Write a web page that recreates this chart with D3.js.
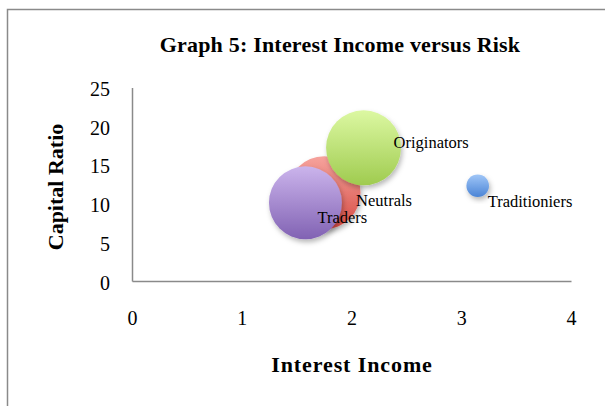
<!DOCTYPE html>
<html>
<head>
<meta charset="utf-8">
<script src="https://cdn.jsdelivr.net/npm/d3@7"></script>
<style>
  html, body { margin: 0; padding: 0; background: #fff; }
  svg { display: block; font-family: "Liberation Serif", "DejaVu Serif", serif; }
</style>
</head>
<body>
<svg id="chart" width="605" height="406"></svg>
<script>
// Bubble series: category names, interest income (x), capital ratio (y), bubble size
const groups   = ["Neutrals", "Originators", "Traders", "Traditioniers"];
const income   = [1.75, 2.11, 1.58, 3.15];
const capital  = [11.4, 17.2, 10.1, 12.3];
const sizes    = [10.4, 11.0, 10.4, 1.0];
const xTicks   = [0, 1, 2, 3, 4];
const yTicks   = [0, 5, 10, 15, 20, 25];

// Fill gradients (top, bottom) per category
const colours = {
  Neutrals:      ["#f6a39d", "#d64c44"],
  Originators:   ["#dcf8a2", "#9fcb4f"],
  Traders:       ["#cbb4ec", "#8162b3"],
  Traditioniers: ["#a0c6f7", "#4a84d6"]
};
// Data label offsets from bubble centre
const labelOffset = {
  Neutrals:      [32, 7],
  Originators:   [30, -6],
  Traders:       [12, 14],
  Traditioniers: [10, 15]
};

const svg = d3.select("#chart");
const defs = svg.append("defs");

const shadow = defs.append("filter").attr("id", "shadow")
  .attr("x", "-30%").attr("y", "-30%").attr("width", "160%").attr("height", "160%");
shadow.append("feDropShadow")
  .attr("dx", 1.5).attr("dy", 3).attr("stdDeviation", 2.5)
  .attr("flood-color", "#000").attr("flood-opacity", 0.28);

groups.forEach((g, i) => {
  const lg = defs.append("linearGradient").attr("id", "grad" + i)
    .attr("x1", 0).attr("y1", 0).attr("x2", 0).attr("y2", 1);
  lg.append("stop").attr("offset", "0%").attr("stop-color", colours[g][0]);
  lg.append("stop").attr("offset", "100%").attr("stop-color", colours[g][1]);
});

// Outer chart frame
svg.append("rect")
  .attr("x", 7.5).attr("y", 9.5).attr("width", 640).attr("height", 440)
  .attr("fill", "none").attr("stroke", "#8a8a8a").attr("stroke-width", 1.5);

const x = d3.scaleLinear().domain([0, 4]).range([132, 571]);
const y = d3.scaleLinear().domain([0, 25]).range([281, 87.5]);
const r = d3.scaleSqrt().domain([0, 11]).range([0, 37.5]);

// Axes: plain lines, labels only
const xAxis = svg.append("g").attr("transform", `translate(0,${y(0)})`)
  .call(d3.axisBottom(x).tickValues(xTicks).tickSize(0).tickPadding(30).tickFormat(d3.format("d")));
const yAxis = svg.append("g").attr("transform", `translate(${x(0)},0)`)
  .call(d3.axisLeft(y).tickValues(yTicks).tickSize(0).tickPadding(22).tickFormat(d3.format("d")));
[xAxis, yAxis].forEach(a => {
  a.select(".domain").attr("stroke", "#8a8a8a").attr("stroke-width", 1.5);
  a.selectAll("text").attr("font-family", "Liberation Serif, serif")
    .attr("font-size", 20).attr("fill", "#000");
});
yAxis.selectAll(".tick text").attr("dy", "0.4em");

const data = groups.map((g, i) => ({ name: g, x: income[i], y: capital[i], s: sizes[i], i }));

svg.append("g").selectAll("circle").data(data).join("circle")
  .attr("cx", d => x(d.x)).attr("cy", d => y(d.y)).attr("r", d => r(d.s))
  .attr("fill", d => `url(#grad${d.i})`)
  .attr("filter", "url(#shadow)");

svg.append("g").selectAll("text").data(data).join("text")
  .attr("x", d => x(d.x) + labelOffset[d.name][0])
  .attr("y", d => y(d.y) + labelOffset[d.name][1])
  .attr("dy", "0.35em")
  .attr("font-size", 16.5).attr("fill", "#000")
  .text(d => d.name);

// Titles
svg.append("text").attr("x", 340).attr("y", 52).attr("text-anchor", "middle")
  .attr("font-size", 22).attr("font-weight", "bold").attr("letter-spacing", 0.2)
  .text("Graph 5: Interest Income versus Risk");
svg.append("text").attr("x", 352).attr("y", 372).attr("text-anchor", "middle")
  .attr("font-size", 22).attr("font-weight", "bold").attr("letter-spacing", 0.9)
  .text("Interest Income");
svg.append("text").attr("transform", "translate(63,187) rotate(-90)").attr("text-anchor", "middle")
  .attr("font-size", 22).attr("font-weight", "bold")
  .text("Capital Ratio");
</script>
</body>
</html>
